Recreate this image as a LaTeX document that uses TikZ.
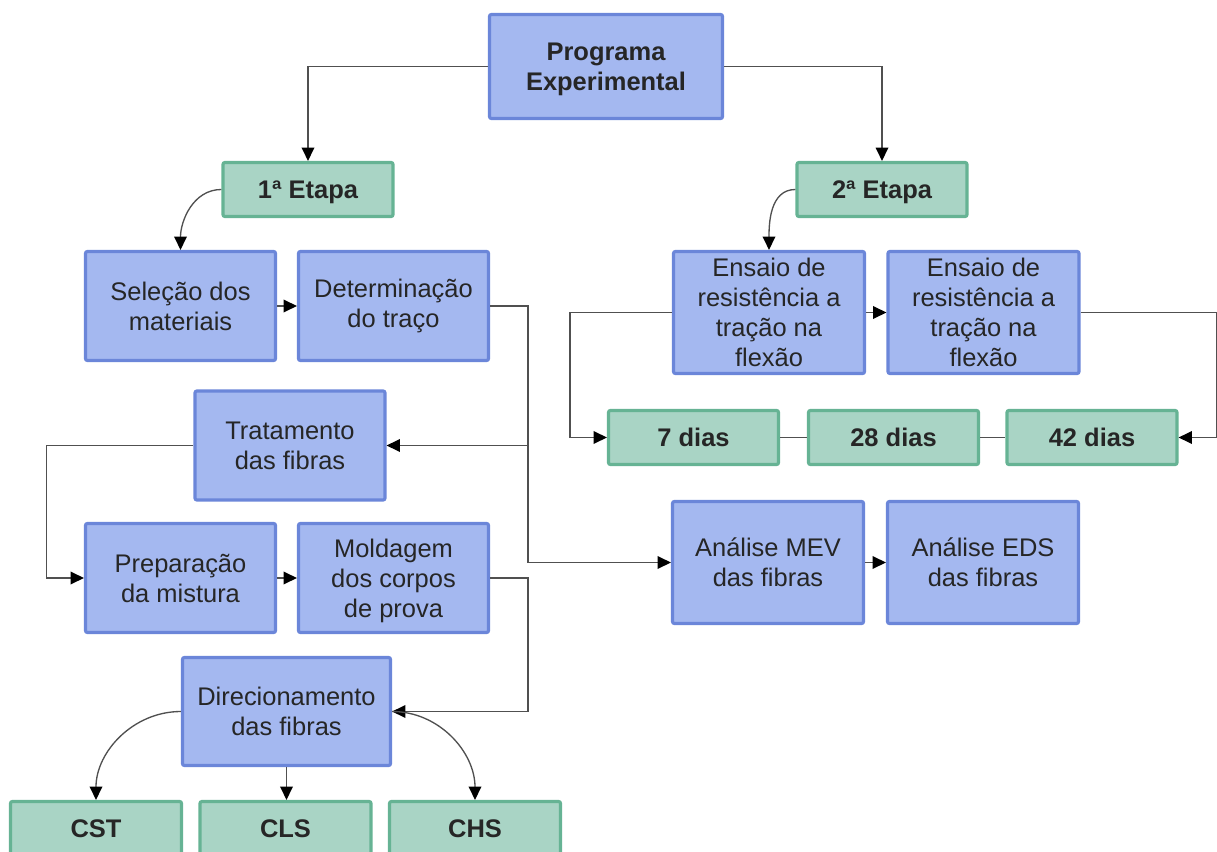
\documentclass[tikz,border=0pt]{standalone}
\usepackage{fontspec}
\setmainfont{Liberation Sans}
\usetikzlibrary{arrows.meta}
\newdimen\pxu \pxu=0.75pt
\definecolor{bluefill}{HTML}{A4B8F0}
\definecolor{blueedge}{HTML}{6B86D9}
\definecolor{greenfill}{HTML}{A9D4C5}
\definecolor{greenedge}{HTML}{66B394}
\definecolor{txt}{HTML}{262626}
\definecolor{wirecol}{HTML}{505050}
\begin{document}
\begin{tikzpicture}[x=0.75pt,y=-0.75pt,
  box/.style={rectangle, rounded corners=1.5pt, line width=2.4pt, align=center,
    text=txt, inner sep=0pt, font=\fontsize{19.1pt}{22.5pt}\selectfont},
  bluebox/.style={box, fill=bluefill, draw=blueedge},
  greenbox/.style={box, fill=greenfill, draw=greenedge,
    font=\fontsize{19.1pt}{22.5pt}\selectfont\bfseries},
  smallbox/.style={minimum width=190\pxu, minimum height=109\pxu},
  tallbox/.style={minimum width=191\pxu, minimum height=122\pxu},
  tagbox/.style={minimum width=170\pxu, minimum height=54\pxu},
  nodepth/.style={text depth=0pt},
  wire/.style={draw=wirecol, line width=1pt},
  arr/.style={wire, -{Triangle[length=10pt,width=9.5pt,fill=black,color=black]}},
]
\useasboundingbox (0,0) rectangle (1217,852);
\clip (0,0) rectangle (1217,852);

% top level
\node[bluebox, nodepth, minimum width=233\pxu, minimum height=104\pxu,
  font=\fontsize{19.1pt}{22.5pt}\selectfont\bfseries] (prog) at (606,66.5) {Programa\\Experimental};
\node[greenbox, tagbox, nodepth] (et1) at (308,189.5) {1ª Etapa};
\node[greenbox, tagbox, nodepth] (et2) at (882,189.5) {2ª Etapa};

% first stage
\node[bluebox, smallbox] (sel) at (180.5,306) {Seleção dos\\materiais};
\node[bluebox, smallbox] (det) at (393.5,306) {Determinação\\do traço};
\node[bluebox, smallbox] (trat) at (290,445.5) {Tratamento\\das fibras};
\node[bluebox, smallbox] (prep) at (180.5,578) {Preparação\\da mistura};
\node[bluebox, smallbox, nodepth] (mold) at (393.5,578) {Moldagem\\dos corpos\\de prova};
\node[bluebox, minimum width=208\pxu, minimum height=108\pxu] (dir) at (286.5,711.5) {Direcionamento\\das fibras};
\node[greenbox, minimum width=171\pxu, minimum height=54\pxu] (cst) at (96,828.5) {CST};
\node[greenbox, minimum width=171\pxu, minimum height=54\pxu] (cls) at (285.5,828.5) {CLS};
\node[greenbox, minimum width=171\pxu, minimum height=54\pxu] (chs) at (475,828.5) {CHS};

% second stage
\node[bluebox, tallbox] (ens1) at (769,312.5) {Ensaio de\\resistência a\\tração na\\flexão};
\node[bluebox, tallbox] (ens2) at (983.5,312.5) {Ensaio de\\resistência a\\tração na\\flexão};
\node[greenbox, tagbox] (d7) at (693.5,437.5) {7 dias};
\node[greenbox, tagbox] (d28) at (893.5,437.5) {28 dias};
\node[greenbox, tagbox] (d42) at (1092,437.5) {42 dias};
\node[bluebox, tallbox] (mev) at (768,562.5) {Análise MEV\\das fibras};
\node[bluebox, tallbox] (eds) at (983,562.5) {Análise EDS\\das fibras};

% connectors
\draw[arr] (prog.west) -| (et1.north);
\draw[arr] (prog.east) -| (et2.north);
\draw[arr] (et1.west) to[out=180,in=90] (sel.north);
\draw[arr] (sel.east) -- (det.west);
\draw[arr] (det.east) -- ++(38,0) |- (trat.east);
\draw[arr] (det.east) -- ++(38,0) |- (mev.west);
\draw[arr] (trat.west) -- ++(-147,0) |- (prep.west);
\draw[arr] (prep.east) -- (mold.west);
\draw[arr] (mold.east) -- ++(38,0) |- (dir.east);
\draw[arr] (dir.west) to[out=180,in=90] (cst.north);
\draw[arr] (dir.south) -- (dir.south |- cls.north);
\draw[arr] (dir.east) to[out=0,in=90] (chs.north);

\draw[arr] (et2.west) to[out=180,in=90] (ens1.north);
\draw[arr] (ens1.east) -- (ens2.west);
\draw[arr] (ens1.west) -- ++(-102,0) |- (d7.west);
\draw[arr] (ens2.east) -- ++(136,0) |- (d42.east);
\draw[wire] (d7.east) -- (d28.west);
\draw[wire] (d28.east) -- (d42.west);
\draw[arr] (mev.east) -- (eds.west);
\end{tikzpicture}
\end{document}
